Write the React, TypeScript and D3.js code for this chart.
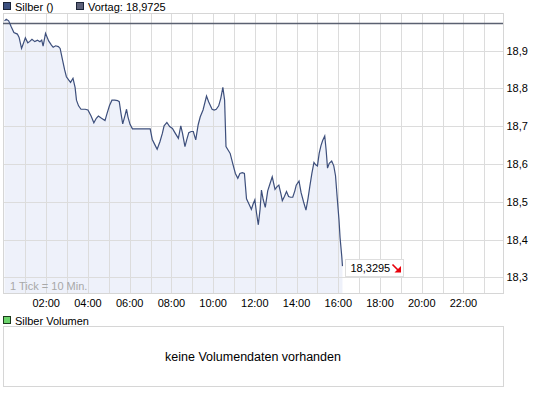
import React, { useRef, useEffect } from "react";
import * as d3 from "d3";

// minutes since midnight
const times = [
    0, 5, 12, 19, 27, 37, 42, 49, 55, 60,
    67, 72, 79, 87, 95, 102, 107, 111, 118, 127,
    135, 140, 147, 155, 160, 167, 173, 178, 185, 190,
    197, 203, 207, 213, 220, 232, 240, 249, 257, 264,
    270, 279, 289, 295, 302, 309, 317, 325, 330, 335,
    340, 347, 351, 355, 361, 368, 419, 425, 433, 439,
    447, 454, 459, 467, 475, 483, 490, 500, 507, 512,
    519, 524, 530, 537, 543, 550, 557, 563, 571, 581,
    587, 597, 603, 609, 616, 622, 628, 633, 637, 643,
    649, 657, 664, 671, 677, 684, 690, 696, 703, 710,
    715, 720, 725, 730, 735, 739, 744, 750, 757, 764,
    770, 778, 784, 789, 795, 799, 805, 811, 817, 823,
    829, 835, 839, 847, 853, 860, 867, 873, 878, 884,
    890, 895, 900, 905, 910, 915, 921, 925, 929, 934,
    941, 947, 952, 957, 962, 965, 970, 972,
];

const prices = [
    18.979, 18.983, 18.979, 18.964, 18.948, 18.944, 18.935, 18.906, 18.921, 18.934,
    18.921, 18.924, 18.93, 18.924, 18.928, 18.924, 18.928, 18.912, 18.946, 18.926,
    18.915, 18.909, 18.913, 18.911, 18.906, 18.875, 18.849, 18.831, 18.822, 18.816,
    18.827, 18.803, 18.769, 18.754, 18.745, 18.745, 18.743, 18.727, 18.709, 18.721,
    18.727, 18.721, 18.715, 18.734, 18.755, 18.769, 18.769, 18.768, 18.765, 18.734,
    18.706, 18.73, 18.745, 18.725, 18.705, 18.693, 18.693, 18.665, 18.65, 18.639,
    18.659, 18.681, 18.701, 18.71, 18.699, 18.694, 18.683, 18.668, 18.701, 18.681,
    18.646, 18.664, 18.683, 18.686, 18.686, 18.664, 18.704, 18.725, 18.743, 18.78,
    18.765, 18.745, 18.743, 18.745, 18.754, 18.774, 18.803, 18.769, 18.646, 18.637,
    18.628, 18.599, 18.575, 18.562, 18.575, 18.577, 18.575, 18.508, 18.494, 18.48,
    18.494, 18.505, 18.469, 18.439, 18.48, 18.531, 18.506, 18.485, 18.529, 18.549,
    18.566, 18.533, 18.54, 18.544, 18.521, 18.503, 18.514, 18.527, 18.514, 18.512,
    18.512, 18.529, 18.544, 18.555, 18.524, 18.5, 18.478, 18.509, 18.54, 18.575,
    18.604, 18.598, 18.595, 18.628, 18.648, 18.662, 18.674, 18.637, 18.589, 18.602,
    18.608, 18.595, 18.569, 18.509, 18.452, 18.406, 18.355, 18.3295,
];

const prevClose = 18.9725;
const yTicks = [18.3, 18.4, 18.5, 18.6, 18.7, 18.8, 18.9];
const hourLabels = ["02:00", "04:00", "06:00", "08:00", "10:00", "12:00", "14:00", "16:00", "18:00", "20:00", "22:00"];

const fmt = (v: number, d: number) => v.toFixed(d).replace(".", ",");

export const SilverChart = () => {
    const svgRef = useRef<SVGSVGElement>(null);

    useEffect(() => {
        if (!svgRef.current) return;
        const svg = d3.select(svgRef.current);
        svg.selectAll("*").remove();

        const width = 545;
        const height = 395;
        const plot = { left: 3, right: 503, top: 13.5, bottom: 293.5 };
        const font = "Liberation Sans, Arial, sans-serif";

        const x = d3.scaleLinear().domain([0, 24 * 60]).range([4.5, 505.2]);
        const y = d3.scaleLinear().domain([18.3, 18.9]).range([277.3, 50.7]);
        const px = (v: number) => Math.round(v) + 0.5;

        svg.attr("width", width).attr("height", height);

        // legend
        const legend = [
            { x: 3, label: "Silber ()", fill: "#3c5080" },
            { x: 76, label: `Vortag: ${fmt(prevClose, 4)}`, fill: "#5c6078" },
        ];
        legend.forEach((l) => {
            svg.append("rect")
                .attr("x", l.x + 0.5).attr("y", 2.5)
                .attr("width", 7).attr("height", 7)
                .attr("fill", l.fill).attr("stroke", "#1c2438");
            svg.append("text")
                .attr("x", l.x + 12).attr("y", 10.5)
                .attr("font-family", font).attr("font-size", 11)
                .attr("fill", "#000").text(l.label);
        });

        // plot background + grid
        svg.append("rect")
            .attr("x", plot.left + 0.5).attr("y", plot.top)
            .attr("width", plot.right - plot.left).attr("height", plot.bottom - plot.top)
            .attr("fill", "#fff");

        const hours = d3.range(1, 24);
        svg.append("g")
            .selectAll("line")
            .data(hours)
            .join("line")
            .attr("x1", (h) => px(x(h * 60))).attr("x2", (h) => px(x(h * 60)))
            .attr("y1", plot.top).attr("y2", plot.bottom)
            .attr("stroke", "#dcdcdc");

        // area + line
        const pts = times.map((t, i) => [t, prices[i]] as [number, number]);
        const area = d3.area<[number, number]>()
            .x((d) => x(d[0]))
            .y0(plot.bottom)
            .y1((d) => y(d[1]));
        svg.append("path")
            .datum(pts)
            .attr("d", area)
            .attr("fill", "#eef1fa");

        svg.append("g")
            .selectAll("line")
            .data(yTicks)
            .join("line")
            .attr("x1", plot.left).attr("x2", plot.right)
            .attr("y1", (v) => px(y(v))).attr("y2", (v) => px(y(v)))
            .attr("stroke", "#dcdcdc");

        // hour lines again over the fill
        svg.append("g")
            .selectAll("line")
            .data(hours)
            .join("line")
            .attr("x1", (h) => px(x(h * 60))).attr("x2", (h) => px(x(h * 60)))
            .attr("y1", plot.top).attr("y2", plot.bottom)
            .attr("stroke", "#dcdcdc");

        svg.append("rect")
            .attr("x", plot.left + 0.5).attr("y", plot.top)
            .attr("width", plot.right - plot.left).attr("height", plot.bottom - plot.top)
            .attr("fill", "none").attr("stroke", "#d6d6d6");

        svg.append("text")
            .attr("x", 10).attr("y", 289.5)
            .attr("font-family", font).attr("font-size", 11)
            .attr("fill", "#a8a8a8").text("1 Tick = 10 Min.");

        svg.append("line")
            .attr("x1", plot.left).attr("x2", plot.right)
            .attr("y1", px(y(prevClose))).attr("y2", px(y(prevClose)))
            .attr("stroke", "#5b6171").attr("stroke-width", 1.3);

        const line = d3.line<[number, number]>()
            .x((d) => x(d[0]))
            .y((d) => y(d[1]));
        svg.append("path")
            .datum(pts)
            .attr("d", line)
            .attr("fill", "none")
            .attr("stroke", "#3d4f7c")
            .attr("stroke-width", 1.2);

        // y labels
        svg.append("g")
            .selectAll("text")
            .data(yTicks)
            .join("text")
            .attr("x", 506.5).attr("y", (v) => y(v) + 4)
            .attr("font-family", font).attr("font-size", 11)
            .attr("fill", "#000").text((v) => fmt(v, 1));

        // x labels
        svg.append("g")
            .selectAll("text")
            .data(hourLabels)
            .join("text")
            .attr("x", (l) => x(+l.slice(0, 2) * 60))
            .attr("y", 307)
            .attr("text-anchor", "middle")
            .attr("font-family", font).attr("font-size", 11)
            .attr("fill", "#000").text((l) => l);

        // last price box
        const last = prices[prices.length - 1];
        const bx = x(times[times.length - 1]) + 3;
        svg.append("rect")
            .attr("x", px(bx)).attr("y", 259.5)
            .attr("width", 58).attr("height", 17)
            .attr("fill", "#fff").attr("stroke", "#dedede");
        svg.append("text")
            .attr("x", bx + 5).attr("y", 272)
            .attr("font-family", font).attr("font-size", 11)
            .attr("fill", "#000").text(fmt(last, 4));
        const ax = bx + 47;
        svg.append("line")
            .attr("x1", ax).attr("y1", 264.5)
            .attr("x2", ax + 6).attr("y2", 270.5)
            .attr("stroke", "#e8000b").attr("stroke-width", 1.6);
        svg.append("path")
            .attr("d", `M${ax + 8.5},${272.5}L${ax + 8.5},${266}L${ax + 2},${272.5}Z`)
            .attr("fill", "#e8000b");

        // volume panel
        svg.append("rect")
            .attr("x", 3.5).attr("y", 316.5)
            .attr("width", 7).attr("height", 7)
            .attr("fill", "#6cd46c").attr("stroke", "#1c3a1c");
        svg.append("text")
            .attr("x", 15).attr("y", 324.5)
            .attr("font-family", font).attr("font-size", 11)
            .attr("fill", "#000").text("Silber Volumen");
        svg.append("rect")
            .attr("x", plot.left + 0.5).attr("y", 326.5)
            .attr("width", plot.right - plot.left).attr("height", 60)
            .attr("fill", "#fff").attr("stroke", "#d6d6d6");
        svg.append("text")
            .attr("x", (plot.left + plot.right) / 2).attr("y", 360.5)
            .attr("text-anchor", "middle")
            .attr("font-family", font).attr("font-size", 12.5)
            .attr("fill", "#000").text("keine Volumendaten vorhanden");
    }, []);

    return (
        <svg
            ref={svgRef}
            style={{ position: "absolute", left: 0, top: 0, background: "#fff" }}
        />
    );
};

export default function App() {
    return <SilverChart />;
}
